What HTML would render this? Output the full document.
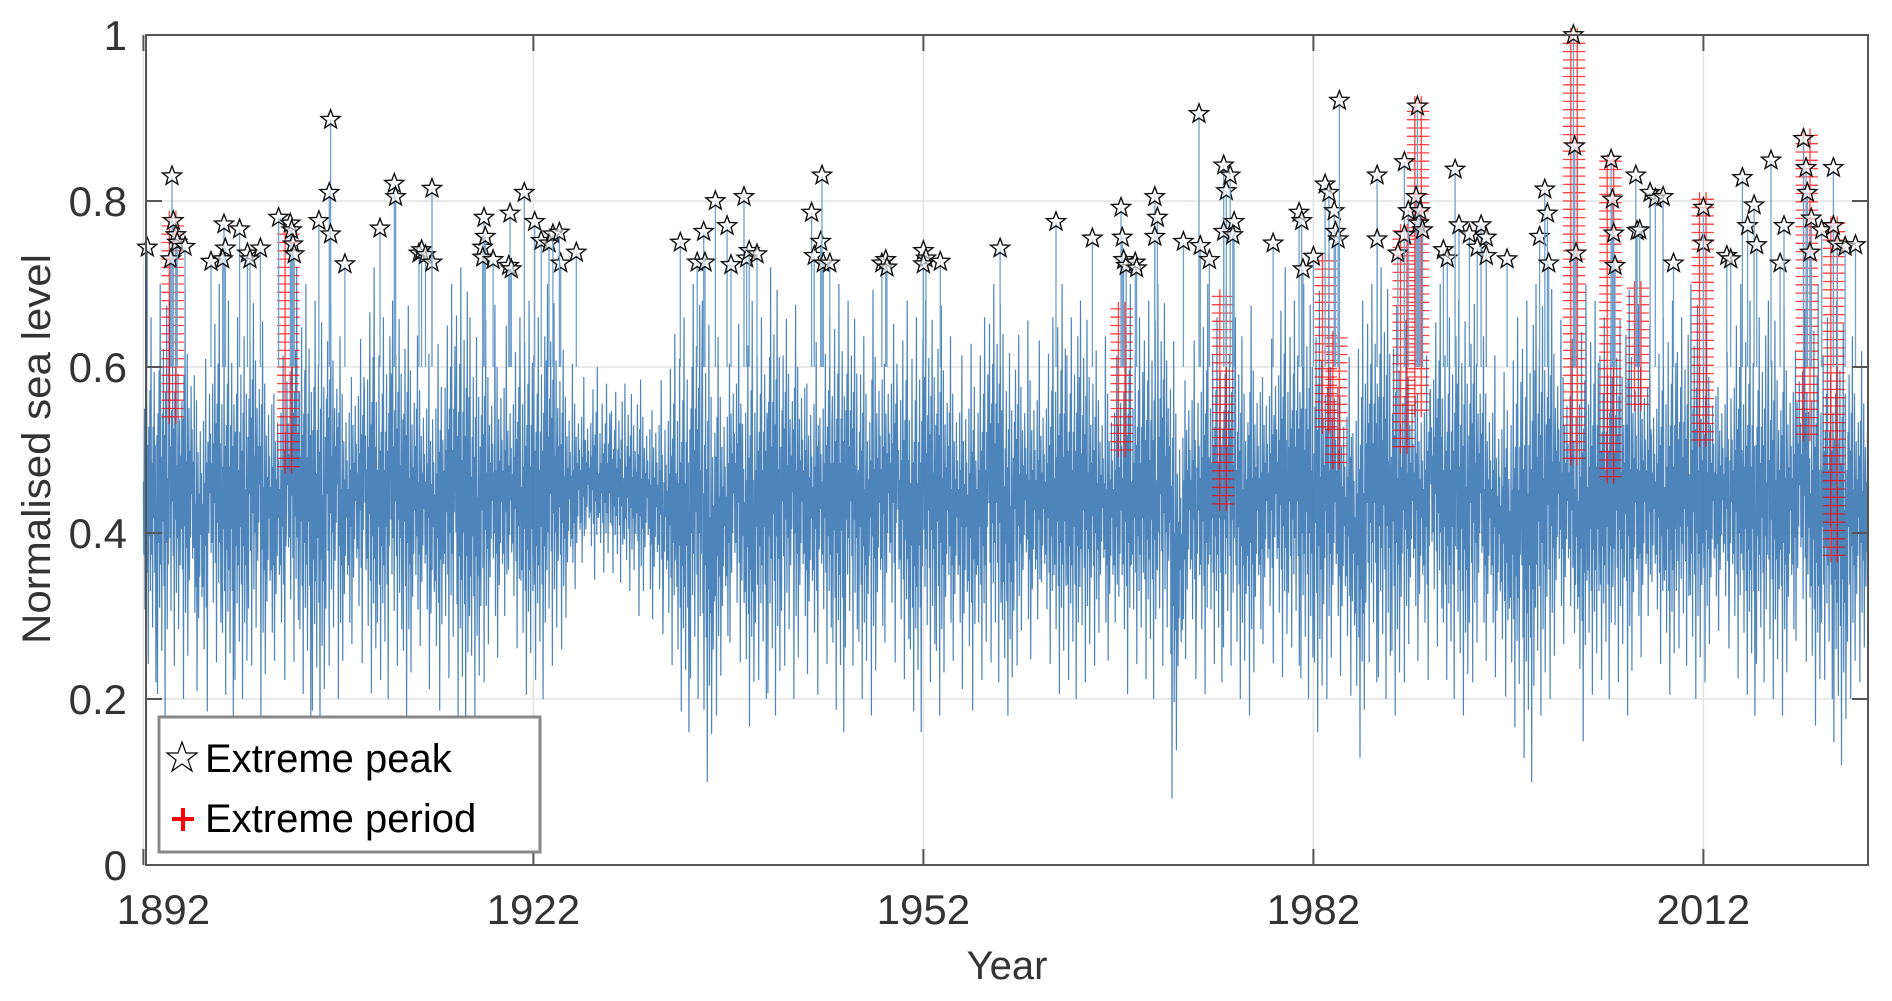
<!DOCTYPE html>
<html><head><meta charset="utf-8"><style>
body{margin:0;background:#fff}
svg{display:block;font-family:"Liberation Sans",sans-serif}
</style></head><body>
<svg id="chart" width="1892" height="1001" viewBox="0 0 1892 1001">
<g id="grid"></g>
<g id="series"></g>
<g id="periods"></g>
<g id="peaks"></g>
<rect x="146" y="35" width="1722" height="830" fill="none" stroke="#555" stroke-width="2"/>
<g id="ticks"></g>
<text transform="translate(50,449) rotate(-90)" text-anchor="middle" font-size="40" fill="#333" textLength="390" lengthAdjust="spacingAndGlyphs">Normalised sea level</text>
<text x="1007" y="979" text-anchor="middle" font-size="40" fill="#333">Year</text>
<g>
<rect x="159" y="717" width="381" height="135" fill="#fff" stroke="#888" stroke-width="3"/>
<path d="M182,742 L186,753 L197,753 L188,760 L192,771 L182,764 L172,771 L176,760 L167,753 L178,753 Z" fill="#fff" stroke="#000" stroke-width="1.2"/>
<text x="205" y="772" font-size="40" fill="#000">Extreme peak</text>
<path d="M172,819 H194 M183,808 V831" stroke="#f00" stroke-width="4"/>
<text x="205" y="832" font-size="40" fill="#000">Extreme period</text>
</g>
</svg>
<script>
const startYear = 1892;
const hiVals = [.66,.70,.68,.72,.66,.70,.68,.66,.70,.68,
.66,.72,.70,.68,.70,.66,.68,.72,.66,.68,
.70,.66,.68,.70,.72,.66,.68,.70,.66,.68,
.66,.70,.64,.62,.60,.58,.57,.58,.60,.62,
.64,.66,.70,.68,.66,.70,.68,.66,.72,.68,
.70,.68,.66,.70,.68,.66,.72,.70,.68,.66,
.68,.70,.66,.68,.66,.70,.64,.66,.68,.66,
.70,.66,.68,.64,.66,.70,.66,.68,.70,.66,
.68,.70,.66,.68,.66,.70,.68,.72,.68,.70,
.72,.70,.66,.68,.70,.72,.70,.68,.66,.70,
.66,.68,.70,.66,.64,.66,.68,.70,.72,.68,
.70,.68,.66,.68,.72,.70,.66,.68,.66,.70,
.68,.66,.70,.68,.66,.68,.70,.72,.70,.66,
.68,.66,.64];
const loVals = [.22,.18,.24,.20,.16,.22,.18,.20,.24,.18,
.20,.22,.18,.16,.24,.20,.22,.18,.20,.24,
.18,.22,.16,.20,.14,.18,.22,.20,.24,.18,
.20,.24,.26,.30,.33,.34,.34,.33,.30,.26,
.22,.16,.20,.10,.18,.22,.14,.20,.18,.24,
.20,.18,.22,.16,.24,.20,.18,.22,.20,.16,
.22,.18,.20,.16,.20,.22,.18,.24,.20,.22,
.18,.20,.22,.24,.20,.18,.22,.20,.24,.08,
.20,.18,.22,.24,.20,.18,.22,.20,.24,.20,
.16,.20,.18,.10,.22,.20,.18,.22,.20,.24,
.20,.18,.22,.20,.18,.14,.10,.18,.20,.22,
.12,.18,.20,.22,.18,.20,.22,.18,.24,.20,
.22,.24,.20,.18,.22,.20,.18,.22,.14,.20,
.12,.20,.22];
const wiggle = [0.1,-0.3,0.5,-0.6,0.2,-0.1,0.8,-0.4,0.3,-0.9,0.4,-0.2,0.6,-0.5,1.0,-0.3,0.2,-0.7,0.4,-0.1,0.7,-0.4,0.3,-1.0,0.5,-0.2,0.9,-0.6,0.1,-0.3,0.6,-0.8,0.0,0.35,-0.45,0.15,-0.25,0.45,-0.05,0.25,-0.35];
const peakYears = [1892.3,1894.2,1894.3,1894.5,1894.1,1894.6,1895.2,1897.2,1898.2,1898.3,1899.4,1898.1,1900,1900.2,1901,1902.4,1903.3,1903.4,1903.5,1903.6,1905.5,1906.4,1906.3,1906.4,1907.5,1910.2,1911.3,1911.4,1913.2,1913.4,1913.7,1914.2,1914.2,1918.1,1918.2,1918.3,1918.1,1918.9,1920.2,1920.1,1920.3,1921.3,1922.1,1922.6,1923.2,1923.5,1924.1,1924.0,1925.3,
1933.3,1934.6,1935.1,1935.2,1936,1936.9,1937.2,1938.2,1938.4,1938.6,1939.2,1943.4,1943.6,1944.1,1944.2,1944.3,1944.8,1948.8,1949.1,1949.2,1952,1952.2,1952,1953.3,1957.9,1962.2,1965,1967.2,1967.3,1967.4,1967.6,1968.3,1968.4,1969.8,1970,1969.8,1972,1973.2,1973.3,1974,1975.1,1975.3,1975.1,1975.6,1975.9,1975.8,1978.9,1980.9,1981.1,1981.2,1982,1982.9,1983.2,1983.6,1983.7,1983.9,1984,1986.9,1986.9,1988.5,1989,1989,1989.3,1990,1989.9,1990.1,1990.2,1990.4,1992,1992.3,1992.9,1993.2,1994,1994.6,1994.9,1995.3,1995.3,1996.9,1999.4,1999.8,2000,2000.1,2002,2002.1,2002.2,2004.9,2005,2005.1,2005.2,2006.8,2006.9,2007.1,2007.9,2008.3,2008.9,2009.7,2012,2012,2013.8,2014.1,2015,2015.4,2015.9,2016.1,2017.2,2017.9,2018.2,2019.7,2019.9,2020,2020.3,2020.2,2021.1,2022,2022,2022.3,2022.9,2023.7];
const peakVals = [.744,.83,.776,.759,.73,.75,.745,.727,.772,.743,.766,.73,.737,.73,.743,.78,.773,.765,.748,.736,.776,.898,.81,.76,.724,.767,.821,.805,.737,.741,.735,.726,.815,.744,.78,.757,.732,.729,.785,.722,.718,.81,.775,.752,.749,.76,.725,.762,.738,
.75,.726,.763,.726,.8,.77,.723,.805,.731,.74,.736,.786,.734,.751,.831,.725,.725,.725,.729,.72,.74,.731,.724,.727,.743,.775,.755,.792,.756,.729,.722,.726,.719,.805,.78,.757,.751,.905,.746,.729,.843,.812,.763,.831,.775,.759,.749,.786,.776,.718,.733,.82,.81,.788,.763,.754,.921,.831,.754,.737,.847,.759,.788,.914,.805,.773,.788,.765,.741,.731,.838,.771,.76,.744,.771,.756,.734,.73,.757,.814,.785,.725,1.0,.866,.737,.85,.802,.761,.722,.831,.764,.765,.81,.803,.805,.725,.749,.792,.734,.73,.828,.77,.795,.747,.849,.725,.77,.875,.84,.81,.779,.738,.765,.84,.77,.748,.745,.747];
const periodStart = [1894.0,1902.9,1967.0,1974.8,1982.7,1983.5,1988.7,1989.8,2001.8,2004.6,2006.7,2011.7,2019.7,2021.8];
const periodEnd   = [1894.8,1903.6,1967.6,1975.3,1983.2,1984.0,1989.3,1990.4,2002.3,2005.2,2007.2,2012.2,2020.5,2022.4];
const periodMin   = [.54,.48,.50,.435,.528,.485,.504,.548,.49,.468,.555,.512,.519,.373];
const periodMax   = [.78,.766,.676,.689,.737,.635,.766,.918,1.0,.853,.70,.802,.882,.773];
const xTicks = [1892,1922,1952,1982,2012];
const yTicks = [0,0.2,0.4,0.6,0.8,1];

const NS='http://www.w3.org/2000/svg';
const X0=146,X1=1868,Y0=865,Y1=35;
const xMin=1892.2, xMax=1892.2+(X1-X0)/13.0;
const sx=v=>X0+(v-xMin)/(xMax-xMin)*(X1-X0);
const sy=v=>Y0-v*(Y0-Y1);
function mk(tag,attrs,parent){const e=document.createElementNS(NS,tag);for(const k in attrs)e.setAttribute(k,attrs[k]);parent.appendChild(e);return e;}
const grid=document.getElementById('grid'),ticks=document.getElementById('ticks');
yTicks.forEach(t=>{
  const g=mk('line',{x1:X0,x2:X1,y1:sy(t),y2:sy(t),stroke:'#e3e3e3','stroke-width':1.5},grid);
  
  
  const tk=mk('path',{d:`M${X0},${sy(t)}h16M${X1},${sy(t)}h-16`,stroke:'#555','stroke-width':2},ticks);
  
  
  const lb=mk('text',{x:127,y:sy(t)+15,'text-anchor':'end','font-size':42,fill:'#333'},ticks);
  
  
  lb.textContent=String(t);
});
xTicks.forEach(t=>{
  const g=mk('line',{x1:sx(t),x2:sx(t),y1:Y0,y2:Y1,stroke:'#e3e3e3','stroke-width':1.5},grid);
  
  
  const tk=mk('path',{d:`M${sx(t)},${Y0}v-16M${sx(t)},${Y1}v16`,stroke:'#555','stroke-width':2},ticks);
  
  
  const lb=mk('text',{x:sx(t)+(t===1892?20:0),y:924,'text-anchor':'middle','font-size':42,fill:'#333'},ticks);
  
  
  lb.textContent=String(t);
});
// series
let d='';const N=24;
hiVals.forEach((hi,i)=>{
  const lo=loVals[i],mid=(hi+lo)/2,amp=(hi-lo)/2;
  for(let k=0;k<N;k++){
    const p=wiggle[(k+i*7)%wiggle.length];
    const yr=startYear+i+k/N;
    if(yr>xMax)break;
    d+=(d?'L':'M')+sx(yr).toFixed(1)+','+sy(mid+p*amp).toFixed(1);
  }
});
const ser=mk('path',{d:d,fill:'none',stroke:'#3a78b2','stroke-width':1.2,'stroke-opacity':0.9},document.getElementById('series'));


// periods
const pg=document.getElementById('periods');
periodStart.forEach((s,i)=>{
  let pd='';
  for(let xv=s;xv<=periodEnd[i]+1e-6;xv+=0.5){
    for(let v=periodMin[i];v<=periodMax[i]+1e-6;v+=0.01){
      pd+=`M${(sx(xv)-8).toFixed(1)},${sy(v).toFixed(1)}h16M${sx(xv).toFixed(1)},${(sy(v)-7).toFixed(1)}v14`;
    }
  }
  const p=mk('path',{d:pd,stroke:'#f00','stroke-width':1.3,'stroke-opacity':0.75,fill:'none'},pg);
  
  
});
// peaks
const kg=document.getElementById('peaks');
peakYears.forEach((yr,i)=>{
  const x=sx(yr),y=sy(peakVals[i]);
  const st=mk('line',{x1:x,x2:x,y1:sy(0.6),y2:y,stroke:'#6fa0cc','stroke-width':1.3},kg);
  
  
  let sp='';
  for(let j=0;j<10;j++){const r=j%2?4.2:10,a=-Math.PI/2+j*Math.PI/5;sp+=(j?'L':'M')+(x+r*Math.cos(a)).toFixed(1)+','+(y+r*Math.sin(a)).toFixed(1);}
  const s=mk('path',{d:sp+'Z',fill:'#fff','fill-opacity':0.6,stroke:'#111','stroke-width':1.4},kg);
  
  
});
</script>
</body></html>
